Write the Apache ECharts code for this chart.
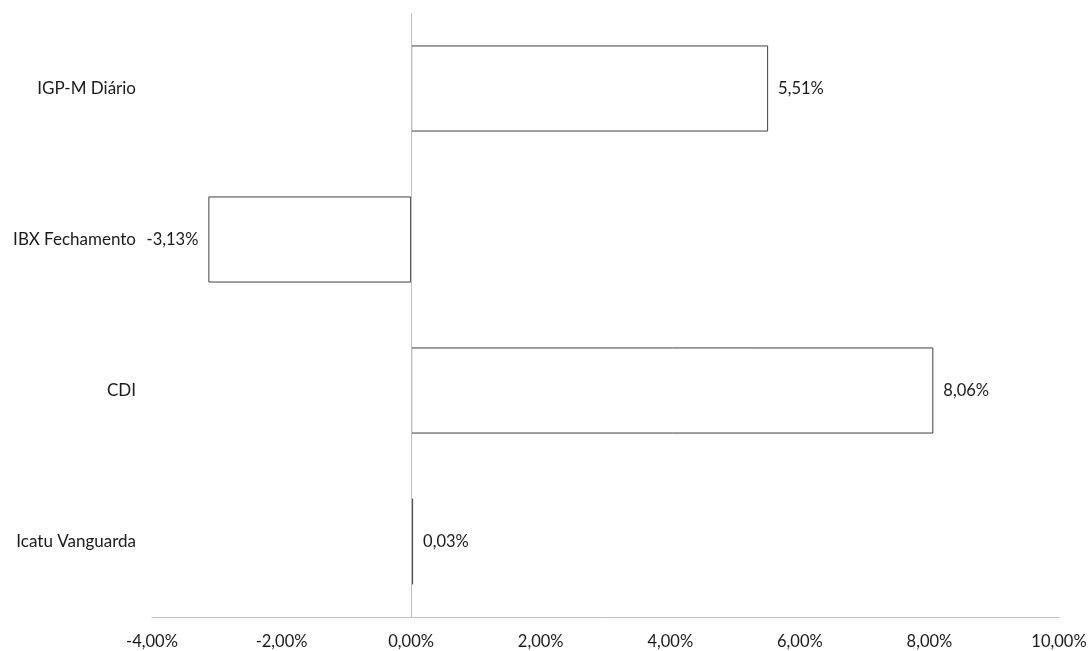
<!DOCTYPE html>
<html><head><meta charset="utf-8">
<script src="https://cdn.jsdelivr.net/npm/echarts@6/dist/echarts.min.js"></script>
<style>html,body{margin:0;padding:0;background:#fff}#c{width:1091px;height:651px}</style>
</head><body><div id="c"></div>
<script>
const categories = ['Icatu Vanguarda', 'CDI', 'IBX Fechamento', 'IGP-M Diário'];
const values = [0.03, 8.06, -3.13, 5.51];
const xTicks = [-4, -2, 0, 2, 4, 6, 8, 10];

const fmt = v => v.toFixed(2).replace('.', ',') + '%';
const FONT = 'Lato';

const chart = echarts.init(document.getElementById('c'), null, {renderer: 'canvas'});
chart.setOption({
  animation: false,
  backgroundColor: '#fff',
  grid: {left: 152, right: 32, top: 13, bottom: 34, containLabel: false},
  xAxis: {
    type: 'value', min: xTicks[0], max: xTicks[xTicks.length - 1], interval: 2,
    axisLine: {show: true, onZero: false, lineStyle: {color: '#bfbfbf', width: 1}},
    axisTick: {show: false},
    splitLine: {show: false},
    axisLabel: {formatter: v => fmt(v), color: '#1a1a1a', fontFamily: FONT, fontSize: 16.5, margin: 16}
  },
  yAxis: [{
    type: 'category', data: categories,
    axisLine: {show: false},
    axisTick: {show: false},
    axisLabel: {color: '#1a1a1a', fontFamily: FONT, fontSize: 17, margin: 16}
  }],
  series: [{
    type: 'bar',
    barWidth: '57%',
    data: values.map(v => ({
      value: v,
      label: {position: v < 0 ? 'left' : 'right'}
    })),
    itemStyle: {color: '#ffffff', borderColor: '#404040', borderWidth: 1},
    label: {show: true, formatter: p => fmt(p.value), color: '#1a1a1a', fontFamily: FONT, fontSize: 16.5, distance: 10},
    markLine: {
      silent: true, symbol: 'none', label: {show: false},
      lineStyle: {color: '#bfbfbf', type: 'solid', width: 1},
      data: [{xAxis: 0}]
    }
  }]
});
</script></body></html>
